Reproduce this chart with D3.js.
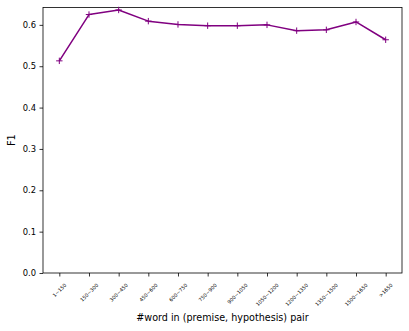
<!DOCTYPE html>
<html>
<head>
<meta charset="utf-8">
<script src="https://cdn.jsdelivr.net/npm/d3@7"></script>
<style>
  html, body { margin: 0; padding: 0; background: #fff; }
  svg { display: block; }
  text { font-family: "DejaVu Sans", sans-serif; fill: #000; }
</style>
</head>
<body>
<svg id="chart" width="409" height="331"></svg>
<script>
const categories = ["1~150", "150~300", "300~450", "450~600", "600~750", "750~900",
  "900~1050", "1050~1200", "1200~1350", "1350~1500", "1500~1650", ">1650"];
const f1Values = [0.513, 0.625, 0.636, 0.609, 0.601, 0.598, 0.598, 0.600, 0.586, 0.588, 0.607, 0.564];
const yTicks = [0.0, 0.1, 0.2, 0.3, 0.4, 0.5, 0.6];
const xLabel = "#word in (premise, hypothesis) pair";
const yLabel = "F1";

(function () {
const mLeft = 43, mRight = 402, mTop = 7.5, mBottom = 273;
const color = "#800080";

const svg = d3.select("#chart");

const n = categories.length;
const x = d3.scaleLinear().domain([-0.55, n - 1 + 0.55]).range([mLeft, mRight]);
const y = d3.scaleLinear().domain([0, 0.642]).range([mBottom, mTop]);

// y axis
const yAxis = d3.axisLeft(y).tickValues(yTicks).tickFormat(d3.format(".1f")).tickSize(3.5).tickPadding(3.5);
const gy = svg.append("g").attr("transform", `translate(${mLeft},0)`).call(yAxis);
gy.select(".domain").remove();
gy.selectAll("line").attr("stroke", "#000").attr("stroke-width", 0.8);
gy.selectAll("text").style("font-family", "DejaVu Sans").style("font-size", "8.4px").attr("fill", "#000");

// x axis ticks
const xAxis = d3.axisBottom(x).tickValues(d3.range(n)).tickFormat(() => "").tickSize(3.5);
const gx = svg.append("g").attr("transform", `translate(0,${mBottom})`).call(xAxis);
gx.select(".domain").remove();
gx.selectAll("line").attr("stroke", "#000").attr("stroke-width", 0.8);

// rotated x tick labels (center-aligned bbox, rotation 45)
const fs = 5;
const labelTop = 282;
categories.forEach((c, i) => {
  const t = svg.append("text")
    .style("font-size", fs + "px")
    .attr("text-anchor", "middle")
    .attr("dominant-baseline", "central")
    .text(c);
  const L = t.node().getComputedTextLength();
  const h = fs * 1.16;
  const half = (L + h) / (2 * Math.SQRT2);
  t.attr("transform", `translate(${x(i)},${labelTop + half}) rotate(-45)`);
});

// frame
svg.append("rect")
  .attr("x", mLeft).attr("y", mTop)
  .attr("width", mRight - mLeft).attr("height", mBottom - mTop)
  .attr("fill", "none").attr("stroke", "#000").attr("stroke-width", 0.8);

// line
const line = d3.line().x((d, i) => x(i)).y(d => y(d));
svg.append("path").datum(f1Values)
  .attr("d", line)
  .attr("fill", "none")
  .attr("stroke", color)
  .attr("stroke-width", 1.5)
  .attr("stroke-linejoin", "round");

// + markers
const ms = 3.2;
const mk = svg.append("g");
f1Values.forEach((v, i) => {
  const cx = x(i), cy = y(v);
  mk.append("path")
    .attr("d", `M${cx - ms},${cy}H${cx + ms}M${cx},${cy - ms}V${cy + ms}`)
    .attr("stroke", color).attr("stroke-width", 1).attr("fill", "none");
});

// axis labels
svg.append("text")
  .attr("x", (mLeft + mRight) / 2).attr("y", 321)
  .attr("text-anchor", "middle")
  .style("font-size", "9.6px")
  .text(xLabel);

svg.append("text")
  .attr("transform", `translate(15,${(mTop + mBottom) / 2}) rotate(-90)`)
  .attr("text-anchor", "middle")
  .style("font-size", "9.6px")
  .text(yLabel);
})();
</script>
</body>
</html>
